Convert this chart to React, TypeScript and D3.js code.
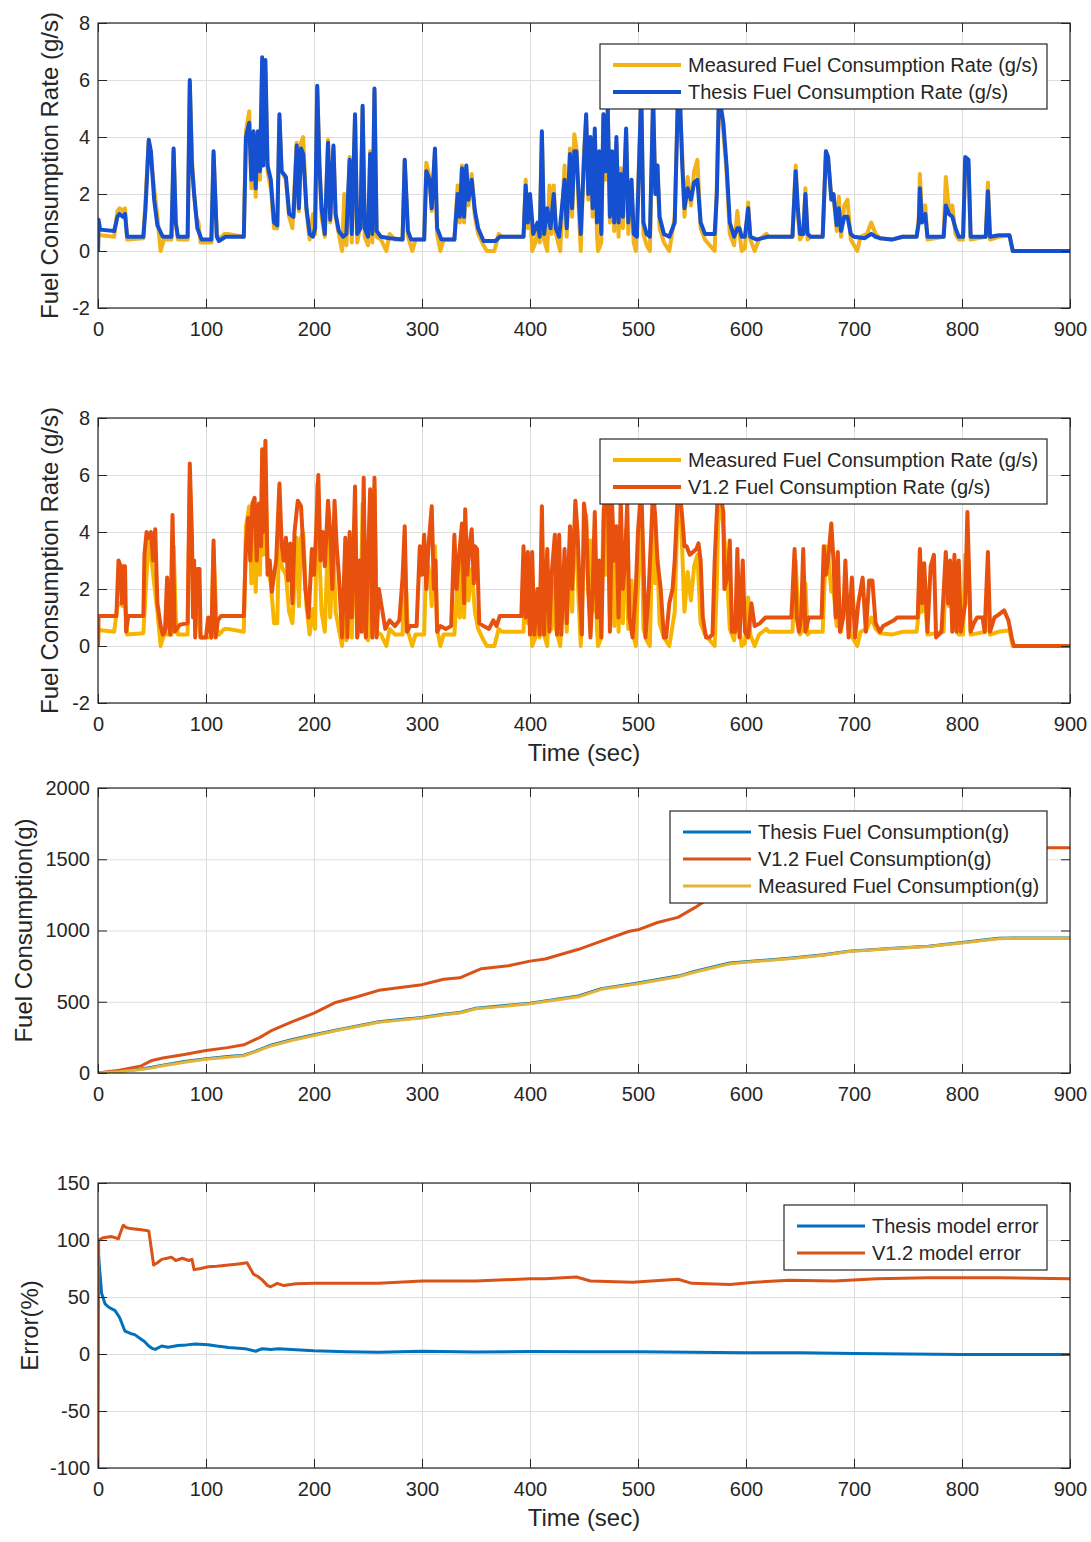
import { useEffect, useRef } from 'react';
import * as d3 from 'd3';

type Pt = [number, number];

const timeTicks = [0, 100, 200, 300, 400, 500, 600, 700, 800, 900];
const rateTicks = [-2, 0, 2, 4, 6, 8];
const cumTicks = [0, 500, 1000, 1500, 2000];
const errTicks = [-100, -50, 0, 50, 100, 150];

// fuel rate (g/s), [time, value]
const measuredRate: Pt[] = [
  [0, 0], [0.5, 0.6], [3, 0.55], [15, 0.5], [18, 1.4], [20, 1.5], [23, 1.4], [25, 1.5], [27, 0.4], [42, 0.45],
  [44, 1.8], [47, 3.9], [49, 3.2], [52, 2.2], [55, 1.2], [58, 0], [61, 0.4], [68, 0.4], [70, 3.5], [72, 1.0],
  [74, 0.4], [83, 0.4], [85, 5.8], [87, 3.2], [89, 2.0], [91, 1.2], [93, 1.0], [95, 0.3], [105, 0.3], [107, 3.4],
  [110, 0.6], [112, 0.4], [117, 0.6], [120, 0.6], [135, 0.5], [137, 4.2], [140, 4.9], [142, 2.2], [144, 4.0], [146, 1.9],
  [148, 4.0], [150, 2.5], [152, 6.5], [153, 3.2], [155, 6.3], [157, 2.8], [160, 2.2], [163, 0.8], [166, 0.8], [168, 4.6],
  [170, 2.8], [174, 2.5], [177, 1.2], [180, 0.8], [184, 3.8], [186, 1.4], [188, 3.8], [190, 4.0], [193, 1.4], [196, 0.4],
  [199, 1.3], [201, 0.6], [203, 5.7], [205, 3.2], [207, 1.2], [210, 0.5], [213, 3.9], [215, 1.0], [218, 3.6], [220, 1.2],
  [223, 0.6], [226, 0], [228, 2.0], [230, 0.2], [233, 3.3], [235, 0.3], [238, 4.7], [240, 0.3], [243, 0.9], [245, 5.0],
  [247, 0.5], [250, 0.2], [252, 3.5], [254, 0.3], [256, 5.6], [258, 0.5], [262, 0.4], [267, 0], [270, 0.6], [275, 0.4],
  [282, 0.4], [284, 3.2], [287, 0.5], [291, 0], [294, 0.4], [302, 0.4], [304, 3.1], [307, 2.6], [309, 1.4], [312, 3.5],
  [314, 0.6], [317, 0], [320, 0.4], [330, 0.4], [333, 2.3], [335, 1.0], [337, 3.0], [339, 1.0], [341, 2.9], [343, 1.6],
  [346, 2.7], [349, 1.2], [352, 0.6], [357, 0.2], [360, 0], [367, 0], [371, 0.6], [374, 0.5], [394, 0.5], [396, 2.5],
  [398, 0.8], [400, 1.8], [402, 0], [405, 0.3], [407, 0.8], [409, 0.3], [411, 4.1], [413, 0.4], [416, 0], [418, 2.3],
  [420, 0.6], [422, 2.3], [424, 0.6], [428, 0], [432, 3.0], [434, 0.5], [437, 3.6], [439, 1.2], [441, 4.1], [443, 3.6],
  [445, 1.6], [447, 0], [450, 3.5], [452, 4.6], [454, 1.8], [456, 3.7], [458, 1.2], [460, 4.1], [462, 0.6], [463, 0],
  [466, 0.3], [468, 4.8], [470, 2.5], [472, 4.9], [474, 1.0], [476, 3.3], [478, 0.7], [480, 3.8], [482, 0.5], [484, 2.9],
  [486, 0.8], [489, 4.1], [491, 0.6], [494, 2.3], [496, 0.3], [498, 0], [503, 5.4], [505, 0.6], [508, 0.2], [511, 0],
  [514, 5.3], [516, 2.2], [518, 3.0], [520, 0.8], [524, 0.3], [529, 0], [534, 1.2], [537, 5.4], [539, 5.0], [541, 3.3],
  [543, 1.2], [546, 2.6], [549, 1.6], [552, 2.8], [555, 3.2], [558, 0.8], [562, 0.4], [571, 0], [573, 2.2], [575, 5.5],
  [577, 4.8], [579, 4.2], [582, 2.8], [585, 0.6], [589, 0.2], [592, 1.4], [594, 0.6], [596, 0], [599, 0.1], [602, 1.7],
  [604, 0.4], [608, 0], [612, 0.4], [619, 0.6], [621, 0.5], [643, 0.5], [646, 3.0], [648, 1.3], [650, 0.4], [653, 0.6],
  [655, 2.2], [657, 0.4], [660, 0.5], [671, 0.5], [674, 3.5], [676, 3.2], [679, 1.9], [681, 2.0], [684, 0.7], [686, 1.9],
  [688, 0.5], [691, 1.6], [694, 1.8], [697, 0.4], [700, 0.2], [703, 0], [706, 0.5], [712, 0.6], [716, 1.0], [720, 0.6],
  [724, 0.45], [735, 0.4], [745, 0.5], [758, 0.5], [760, 1.2], [761, 2.7], [763, 1.2], [766, 1.6], [768, 0.4], [783, 0.5],
  [785, 2.6], [788, 1.4], [791, 1.6], [794, 0.6], [797, 0.4], [801, 0.4], [803, 3.2], [806, 3.0], [808, 0.4], [822, 0.5],
  [824, 2.4], [826, 0.4], [834, 0.5], [844, 0.55], [847, 0], [900, 0],
];

const thesisRate: Pt[] = [
  [0, 0], [0.5, 1.1], [2, 0.75], [15, 0.7], [18, 1.2], [20, 1.3], [23, 1.2], [25, 1.3], [27, 0.5], [42, 0.5],
  [44, 1.5], [47, 3.9], [49, 3.5], [52, 1.8], [55, 0.9], [60, 0.5], [68, 0.5], [70, 3.6], [72, 1.0], [74, 0.5],
  [83, 0.5], [85, 6.0], [87, 3.0], [89, 2.0], [92, 0.8], [96, 0.4], [105, 0.4], [107, 3.5], [110, 0.5], [112, 0.35],
  [118, 0.5], [135, 0.5], [137, 4.0], [140, 4.5], [142, 2.5], [144, 4.2], [146, 2.2], [148, 4.2], [150, 2.8], [152, 6.8],
  [153, 3.0], [155, 6.7], [157, 3.0], [160, 2.5], [163, 1.0], [166, 0.9], [168, 4.8], [170, 2.8], [174, 2.6], [177, 1.3],
  [181, 1.2], [184, 3.7], [186, 1.5], [188, 3.6], [190, 3.4], [193, 1.5], [196, 0.6], [199, 0.5], [201, 0.8], [203, 5.8],
  [205, 3.0], [207, 1.5], [210, 0.6], [213, 3.8], [215, 1.1], [218, 3.7], [220, 1.3], [223, 0.7], [227, 0.5], [230, 0.6],
  [233, 3.2], [235, 0.6], [238, 4.8], [240, 0.6], [243, 0.8], [245, 5.1], [247, 0.8], [250, 0.5], [252, 3.4], [254, 0.6],
  [256, 5.7], [258, 0.7], [262, 0.5], [270, 0.45], [282, 0.4], [284, 3.2], [287, 0.7], [290, 0.4], [302, 0.4], [304, 2.8],
  [307, 2.5], [309, 1.5], [312, 3.6], [314, 0.8], [318, 0.4], [330, 0.4], [333, 2.0], [335, 1.2], [337, 2.9], [339, 1.2],
  [341, 3.0], [343, 1.8], [346, 2.5], [349, 1.4], [352, 0.8], [357, 0.35], [368, 0.35], [372, 0.5], [394, 0.5], [396, 2.3],
  [398, 1.0], [400, 2.0], [403, 0.6], [407, 1.0], [409, 0.5], [411, 4.2], [413, 0.6], [416, 1.5], [419, 0.8], [422, 2.0],
  [424, 0.8], [427, 0.5], [432, 2.5], [434, 0.8], [437, 3.4], [439, 1.5], [441, 3.5], [443, 3.5], [445, 2.0], [447, 0.6],
  [450, 3.2], [452, 4.8], [454, 2.0], [456, 4.0], [458, 1.5], [460, 4.3], [462, 1.0], [464, 3.5], [466, 0.6], [468, 4.8],
  [470, 2.8], [472, 5.0], [474, 1.2], [476, 3.5], [478, 1.0], [480, 4.0], [482, 1.0], [484, 2.7], [486, 1.2], [489, 4.3],
  [491, 1.0], [494, 2.5], [496, 0.6], [499, 0.5], [503, 5.6], [505, 1.0], [508, 0.6], [511, 0.5], [514, 5.4], [516, 2.0],
  [518, 3.0], [520, 1.2], [524, 0.6], [529, 0.5], [534, 1.0], [537, 5.5], [539, 5.2], [541, 3.0], [543, 1.5], [546, 2.2],
  [549, 1.8], [552, 2.4], [555, 2.5], [558, 1.0], [562, 0.6], [571, 0.6], [573, 2.0], [575, 5.6], [577, 5.0], [579, 4.5],
  [582, 3.0], [585, 1.0], [589, 0.5], [592, 0.8], [594, 0.8], [596, 0.5], [599, 0.5], [602, 1.5], [604, 0.5], [610, 0.4],
  [620, 0.5], [643, 0.5], [646, 2.8], [648, 1.5], [650, 0.6], [653, 0.6], [655, 2.0], [657, 0.6], [660, 0.5], [671, 0.5],
  [674, 3.5], [676, 3.3], [679, 1.8], [681, 2.0], [684, 0.9], [686, 1.5], [688, 0.7], [691, 1.2], [694, 1.2], [697, 0.6],
  [700, 0.5], [710, 0.45], [716, 0.6], [720, 0.5], [724, 0.45], [735, 0.4], [745, 0.5], [758, 0.5], [760, 1.0], [761, 2.2],
  [763, 1.0], [766, 1.3], [768, 0.5], [783, 0.5], [785, 1.6], [788, 1.3], [791, 1.2], [794, 0.8], [797, 0.5], [801, 0.5],
  [803, 3.3], [806, 3.2], [808, 0.5], [822, 0.5], [824, 2.1], [826, 0.5], [834, 0.55], [844, 0.55], [847, 0], [900, 0],
];

const v12Rate: Pt[] = [
  [0, 0], [0.5, 1.05], [17, 1.05], [19, 3.0], [21, 2.8], [22, 1.5], [23, 2.8], [25, 2.8], [26, 0.5], [28, 1.05],
  [42, 1.05], [43, 3.2], [45, 4.0], [47, 3.8], [49, 4.0], [51, 3.0], [53, 4.1], [55, 1.5], [58, 0.7], [60, 0.4],
  [62, 0.5], [64, 2.4], [66, 0.6], [67, 0.4], [69, 4.6], [71, 0.5], [73, 0.6], [76, 0.75], [83, 0.8], [85, 6.4],
  [87, 3.8], [88, 1.0], [89, 3.0], [90, 0.3], [92, 2.7], [94, 2.7], [95, 0.3], [100, 0.3], [102, 1.0], [105, 0.3],
  [107, 3.7], [109, 0.3], [111, 0.9], [114, 1.05], [135, 1.05], [137, 3.5], [139, 4.5], [141, 3.0], [143, 5.0], [145, 5.2],
  [147, 3.0], [149, 5.0], [151, 3.5], [152, 6.9], [153, 4.0], [155, 7.2], [157, 2.5], [159, 3.0], [161, 1.9], [163, 2.5],
  [165, 3.0], [168, 5.7], [170, 3.6], [172, 3.0], [174, 3.8], [176, 2.3], [178, 3.6], [180, 1.5], [182, 4.0], [185, 5.1],
  [188, 4.9], [190, 3.5], [192, 2.0], [195, 1.0], [198, 3.4], [200, 2.5], [202, 4.0], [204, 6.0], [206, 3.0], [208, 4.0],
  [210, 2.8], [213, 5.1], [215, 4.0], [217, 2.0], [219, 5.1], [221, 3.5], [223, 2.5], [226, 0.3], [229, 3.8], [231, 0.3],
  [233, 4.0], [235, 1.0], [238, 5.6], [240, 0.3], [242, 3.0], [244, 0.5], [246, 5.9], [248, 0.3], [250, 3.0], [252, 5.5],
  [254, 0.3], [256, 5.9], [258, 0.3], [260, 2.0], [263, 1.3], [266, 0.6], [270, 0.9], [275, 0.7], [279, 0.9], [282, 2.4],
  [284, 4.2], [286, 0.5], [289, 0.7], [295, 0.7], [298, 3.5], [300, 2.5], [302, 3.9], [304, 2.0], [306, 3.5], [309, 4.9],
  [311, 2.0], [312.5, 3.0], [314, 0.5], [317, 0.7], [322, 0.6], [327, 0.7], [330, 3.9], [332, 2.0], [334, 3.0], [337, 4.3],
  [339, 1.5], [340, 4.8], [342, 2.5], [344, 3.5], [346, 4.1], [348, 2.2], [349, 3.5], [351, 3.4], [353, 0.8], [357, 0.7],
  [362, 0.6], [366, 0.9], [369, 0.7], [372, 1.05], [392, 1.05], [394, 3.5], [396, 1.0], [398, 3.3], [400, 0.4], [402, 3.3],
  [404, 0.4], [407, 2.0], [409, 0.4], [411, 4.9], [413, 0.4], [416, 3.4], [418, 0.5], [420, 2.5], [423, 3.9], [425, 0.4],
  [427, 3.9], [429, 0.4], [432, 3.4], [434, 0.8], [437, 4.2], [439, 2.0], [442, 5.1], [444, 4.0], [446, 2.0], [448, 0.4],
  [450, 5.0], [452, 4.3], [454, 2.0], [456, 0.3], [458, 2.0], [460, 4.7], [462, 1.0], [464, 3.0], [466, 0.3], [469, 5.5],
  [472, 5.5], [474, 0.5], [476, 5.0], [478, 3.0], [480, 4.2], [482, 1.0], [484, 5.2], [486, 2.0], [488, 3.0], [490, 5.0],
  [492, 1.0], [495, 0.3], [498, 2.0], [500, 4.0], [503, 5.6], [505, 3.0], [507, 0.3], [510, 2.0], [514, 5.5], [516, 4.5],
  [518, 3.0], [521, 2.0], [524, 0.3], [526, 0.3], [529, 1.5], [532, 2.0], [534, 3.0], [537, 5.5], [539, 5.3], [541, 4.5],
  [543, 3.5], [545, 3.5], [548, 3.2], [551, 3.3], [554, 3.4], [556, 3.6], [558, 3.0], [560, 1.0], [563, 0.3], [566, 0.3],
  [569, 0.4], [571, 3.0], [574, 5.5], [577, 5.2], [579, 4.7], [580, 2.0], [583, 2.5], [585, 3.7], [587, 0.5], [590, 0.5],
  [592, 3.4], [594, 0.3], [597, 3.0], [599, 0.5], [602, 0.3], [605, 1.5], [608, 0.7], [613, 0.8], [618, 1.0], [642, 1.0],
  [645, 3.4], [647, 1.0], [649, 0.5], [651, 1.0], [653, 3.4], [655, 0.5], [658, 1.0], [670, 1.0], [672, 3.5], [674, 2.5],
  [676, 3.0], [679, 4.3], [681, 3.0], [683, 1.0], [685, 3.3], [687, 0.5], [690, 1.0], [692, 3.0], [695, 0.3], [698, 2.4],
  [701, 0.3], [704, 1.5], [708, 2.4], [711, 0.5], [714, 2.3], [717, 2.3], [720, 0.8], [724, 0.5], [727, 0.7], [737, 0.9],
  [740, 1.0], [759, 1.0], [761, 3.4], [763, 1.5], [765, 2.9], [768, 0.5], [771, 2.8], [774, 3.2], [776, 0.3], [781, 0.5],
  [785, 3.3], [787, 1.5], [789, 3.0], [791, 0.5], [793, 3.2], [795, 0.5], [797, 3.0], [799, 0.5], [803, 1.5], [805, 4.7],
  [808, 0.5], [811, 0.8], [814, 1.0], [819, 1.0], [821, 0.5], [824, 3.3], [826, 0.5], [830, 1.0], [834, 1.1], [839, 1.25],
  [843, 0.9], [846, 0.3], [848, 0], [900, 0],
];

// cumulative fuel (g)
const thesisCum: Pt[] = [
  [0, 0], [20, 12], [40, 28], [50, 40], [60, 55], [80, 80], [100, 100], [120, 115], [135, 125], [145, 150],
  [160, 195], [180, 235], [200, 268], [220, 300], [240, 330], [260, 360], [280, 375], [300, 390], [320, 412], [335, 425],
  [350, 455], [370, 468], [400, 490], [414, 505], [445, 540], [466, 592], [500, 632], [537, 680], [553, 714], [585, 772],
  [608, 786], [640, 806], [672, 830], [695, 855], [737, 876], [769, 890], [800, 916], [834, 945], [848, 948], [900, 948],
];

const v12Cum: Pt[] = [
  [0, 0], [20, 20], [40, 50], [50, 88], [60, 105], [80, 130], [100, 158], [120, 178], [135, 198], [150, 250],
  [160, 295], [180, 360], [200, 420], [220, 495], [240, 535], [260, 580], [280, 600], [300, 620], [320, 658], [335, 668],
  [355, 732], [380, 752], [400, 785], [414, 800], [445, 868], [466, 925], [492, 995], [500, 1005], [518, 1056], [537, 1092],
  [553, 1162], [573, 1265], [600, 1320], [650, 1400], [700, 1450], [750, 1500], [800, 1540], [848, 1580], [900, 1580],
];

const measuredCum: Pt[] = [
  [0, 0], [20, 9], [40, 24], [50, 36], [60, 51], [80, 76], [100, 96], [120, 111], [135, 121], [145, 146],
  [160, 190], [180, 230], [200, 263], [220, 296], [240, 326], [260, 356], [280, 371], [300, 386], [320, 408], [335, 421],
  [350, 451], [370, 464], [400, 486], [414, 501], [445, 535], [466, 587], [500, 627], [537, 675], [553, 709], [585, 767],
  [608, 782], [640, 802], [672, 826], [695, 852], [737, 873], [769, 887], [800, 913], [834, 942], [848, 945], [900, 945],
];

// running model error (%)
const thesisErr: Pt[] = [
  [0, 95], [1, 80], [3.4, 53], [6.5, 44], [10, 41], [15.8, 38], [20, 32], [25, 20], [30, 18], [34, 17],
  [40, 13], [43, 11], [47, 7], [50, 5], [53, 4], [59, 7], [65, 6], [74, 7.5], [82, 8], [90, 8.8],
  [102, 8.2], [110, 7], [121, 5.8], [136, 4.7], [146, 2.4], [152, 4.7], [160, 4], [167, 4.6], [183, 3.8], [200, 2.9],
  [230, 2], [260, 1.5], [300, 2.5], [350, 1.8], [400, 2.2], [450, 2], [500, 2], [550, 1.6], [600, 1.2], [650, 1],
  [700, 0.5], [750, 0], [800, -0.5], [850, -0.4], [900, -0.5],
];

const v12Err: Pt[] = [
  [0, -100], [0.6, 100], [5, 102], [12.6, 103], [16, 102], [18.8, 101], [21, 107], [23.4, 113], [26, 111], [30, 110],
  [40, 109], [47, 108], [49, 95], [51.5, 78], [55, 80], [59, 83], [64, 84], [68, 85], [72, 82], [78, 84],
  [84, 82], [87, 83], [89, 74], [95, 75], [102, 76.5], [110, 77], [121, 78], [130, 79], [138, 80], [141, 75],
  [144, 70], [148, 68], [152, 65], [157, 60], [160, 59], [166, 62], [172, 60], [183, 61.7], [200, 62], [230, 62],
  [260, 62], [300, 64], [350, 64], [400, 66], [414, 66], [443, 67.6], [456, 64], [495, 63], [537, 65.6], [550, 62],
  [585, 61], [608, 63], [640, 64.7], [682, 64], [721, 66], [769, 66.8], [834, 66.8], [900, 66],
];

const LEFT = 98;
const RIGHT = 1070;
const PLOT_H = 285;
const FONT = '"Liberation Sans", Arial, Helvetica, sans-serif';
const INK = '#262626';

const panels = [
  {
    top: 23, domain: [-2, 8], ticks: rateTicks, yLabel: 'Fuel Consumption Rate (g/s)', yLabelX: 50, xLabel: false,
    series: [
      { data: measuredRate, color: '#F2B21C', width: 4, name: 'Measured Fuel Consumption Rate (g/s)' },
      { data: thesisRate, color: '#1550D0', width: 4, name: 'Thesis Fuel Consumption Rate (g/s)' },
    ],
    legend: { x: 600, y: 44, w: 447 },
  },
  {
    top: 418, domain: [-2, 8], ticks: rateTicks, yLabel: 'Fuel Consumption Rate (g/s)', yLabelX: 50, xLabel: true,
    series: [
      { data: measuredRate, color: '#F7B500', width: 4, name: 'Measured Fuel Consumption Rate (g/s)' },
      { data: v12Rate, color: '#E8500E', width: 4, name: 'V1.2 Fuel Consumption Rate (g/s)' },
    ],
    legend: { x: 600, y: 439, w: 447 },
  },
  {
    top: 788, domain: [0, 2000], ticks: cumTicks, yLabel: 'Fuel Consumption(g)', yLabelX: 24, xLabel: false,
    series: [
      { data: thesisCum, color: '#0072BD', width: 3, name: 'Thesis Fuel Consumption(g)' },
      { data: v12Cum, color: '#D95319', width: 3, name: 'V1.2 Fuel Consumption(g)' },
      { data: measuredCum, color: '#E3B43A', width: 3, name: 'Measured Fuel Consumption(g)' },
    ],
    legend: { x: 670, y: 811, w: 377 },
  },
  {
    top: 1183, domain: [-100, 150], ticks: errTicks, yLabel: 'Error(%)', yLabelX: 30, xLabel: true,
    series: [
      { data: thesisErr, color: '#0072BD', width: 3, name: 'Thesis model error' },
      { data: v12Err, color: '#D95319', width: 3, name: 'V1.2 model error' },
    ],
    legend: { x: 784, y: 1205, w: 263 },
  },
];

export default function App() {
  const svgRef = useRef<SVGSVGElement>(null);

  useEffect(() => {
    if (!svgRef.current) return;
    const svg = d3.select(svgRef.current);
    svg.selectAll('*').remove();

    const x = d3.scaleLinear().domain([0, 900]).range([LEFT, RIGHT]);
    const fmt = (d: d3.NumberValue) => String(d);

    panels.forEach((p, i) => {
      const bottom = p.top + PLOT_H;
      const y = d3.scaleLinear().domain(p.domain).range([bottom, p.top]);
      const g = svg.append('g');

      // grid
      g.append('g')
        .attr('transform', `translate(0,${bottom})`)
        .call(d3.axisBottom(x).tickValues(timeTicks).tickSize(-PLOT_H).tickFormat(() => ''))
        .call(s => s.select('.domain').remove())
        .selectAll('line').attr('stroke', '#dedede');
      g.append('g')
        .attr('transform', `translate(${LEFT},0)`)
        .call(d3.axisLeft(y).tickValues(p.ticks).tickSize(-(RIGHT - LEFT)).tickFormat(() => ''))
        .call(s => s.select('.domain').remove())
        .selectAll('line').attr('stroke', '#dedede');

      // lines
      const clipId = `clip-${i}`;
      svg.append('clipPath').attr('id', clipId)
        .append('rect')
        .attr('x', LEFT).attr('y', p.top)
        .attr('width', RIGHT - LEFT).attr('height', PLOT_H);

      const line = d3.line<Pt>().x(d => x(d[0])).y(d => y(d[1]));
      const lines = g.append('g').attr('clip-path', `url(#${clipId})`);
      p.series.forEach(s => {
        lines.append('path')
          .attr('d', line(s.data))
          .attr('fill', 'none')
          .attr('stroke', s.color)
          .attr('stroke-width', s.width)
          .attr('stroke-linejoin', 'round');
      });

      // axes with inward ticks
      const styleAxis = (sel: d3.Selection<SVGGElement, unknown, null, undefined>) => {
        sel.select('.domain').remove();
        sel.selectAll('line').attr('stroke', INK);
        sel.selectAll('text')
          .attr('fill', INK)
          .style('font-family', FONT)
          .style('font-size', '20px');
      };
      g.append('g')
        .attr('transform', `translate(0,${bottom})`)
        .call(d3.axisBottom(x).tickValues(timeTicks).tickSize(-9).tickPadding(14).tickFormat(fmt))
        .call(styleAxis);
      g.append('g')
        .attr('transform', `translate(0,${p.top})`)
        .call(d3.axisTop(x).tickValues(timeTicks).tickSize(-9).tickFormat(() => ''))
        .call(styleAxis);
      g.append('g')
        .attr('transform', `translate(${LEFT},0)`)
        .call(d3.axisLeft(y).tickValues(p.ticks).tickSize(-9).tickPadding(8).tickFormat(fmt))
        .call(styleAxis);
      g.append('g')
        .attr('transform', `translate(${RIGHT},0)`)
        .call(d3.axisRight(y).tickValues(p.ticks).tickSize(-9).tickFormat(() => ''))
        .call(styleAxis);

      g.append('rect')
        .attr('x', LEFT).attr('y', p.top)
        .attr('width', RIGHT - LEFT).attr('height', PLOT_H)
        .attr('fill', 'none').attr('stroke', INK).attr('stroke-width', 1.2);

      // axis titles
      const cy = p.top + PLOT_H / 2;
      g.append('text')
        .attr('transform', `translate(${p.yLabelX},${cy}) rotate(-90)`)
        .attr('text-anchor', 'middle')
        .attr('dy', '0.35em')
        .attr('fill', INK)
        .style('font-family', FONT)
        .style('font-size', '24px')
        .text(p.yLabel);
      if (p.xLabel) {
        g.append('text')
          .attr('x', (LEFT + RIGHT) / 2)
          .attr('y', bottom + 58)
          .attr('text-anchor', 'middle')
          .attr('fill', INK)
          .style('font-family', FONT)
          .style('font-size', '24px')
          .text('Time (sec)');
      }

      // legend
      const lg = p.legend;
      const rowGap = 27;
      const lgG = g.append('g').attr('transform', `translate(${lg.x},${lg.y})`);
      lgG.append('rect')
        .attr('width', lg.w)
        .attr('height', rowGap * p.series.length + 11)
        .attr('fill', '#fff')
        .attr('stroke', INK)
        .attr('stroke-width', 1.2);
      p.series.forEach((s, k) => {
        const ry = 21 + k * rowGap;
        lgG.append('line')
          .attr('x1', 13).attr('x2', 81)
          .attr('y1', ry).attr('y2', ry)
          .attr('stroke', s.color)
          .attr('stroke-width', s.width);
        lgG.append('text')
          .attr('x', 88).attr('y', ry)
          .attr('dy', '0.35em')
          .attr('fill', INK)
          .style('font-family', FONT)
          .style('font-size', '20px')
          .text(s.name);
      });
    });
  }, []);

  return (
    <div style={{ position: 'absolute', left: 0, top: 0, background: '#fff' }}>
      <svg ref={svgRef} width={1091} height={1542} style={{ display: 'block' }} />
    </div>
  );
}
